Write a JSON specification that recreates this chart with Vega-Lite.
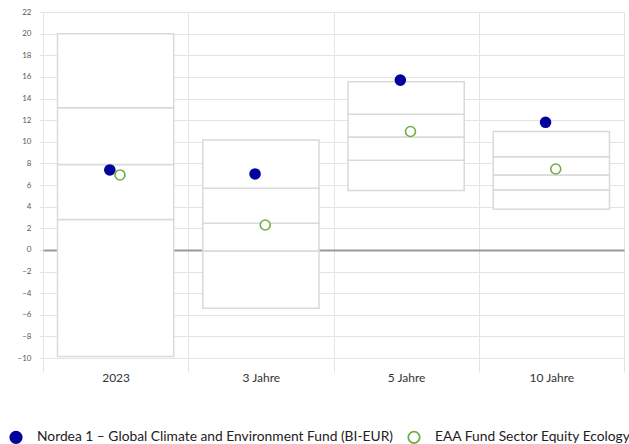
{
  "$schema": "https://vega.github.io/schema/vega-lite/v6.json",
  "autosize": "none",
  "padding": {"left": 43, "top": 12, "right": 5, "bottom": 86},
  "width": 581,
  "height": 346,
  "background": "white",
  "config": {
    "view": {"stroke": "#e4e4e4", "strokeWidth": 1},
    "font": "Lato",
    "legend": {
      "title": null,
      "orient": "none",
      "direction": "horizontal",
      "legendX": -34,
      "legendY": 418,
      "labelFontSize": 13.8,
      "labelColor": "#222222",
      "labelFont": "Lato",
      "labelLimit": 1000,
      "symbolSize": 130,
      "symbolStrokeWidth": 1.8,
      "labelOffset": 14,
      "columnPadding": 11
    }
  },
  "datasets": {
    "boxes": [
      {"period": "2023", "v": -9.85, "v2": 2.8},
      {"period": "2023", "v": 2.8, "v2": 7.9},
      {"period": "2023", "v": 7.9, "v2": 13.15},
      {"period": "2023", "v": 13.15, "v2": 20.0},
      {"period": "3 Jahre", "v": -5.4, "v2": -0.1},
      {"period": "3 Jahre", "v": -0.1, "v2": 2.46},
      {"period": "3 Jahre", "v": 2.46, "v2": 5.7},
      {"period": "3 Jahre", "v": 5.7, "v2": 10.17},
      {"period": "5 Jahre", "v": 5.5, "v2": 8.3},
      {"period": "5 Jahre", "v": 8.3, "v2": 10.45},
      {"period": "5 Jahre", "v": 10.45, "v2": 12.55},
      {"period": "5 Jahre", "v": 12.55, "v2": 15.55},
      {"period": "10 Jahre", "v": 3.75, "v2": 5.54},
      {"period": "10 Jahre", "v": 5.54, "v2": 6.93},
      {"period": "10 Jahre", "v": 6.93, "v2": 8.62},
      {"period": "10 Jahre", "v": 8.62, "v2": 10.94}
    ],
    "points": [
      {"period": "2023", "series": "Nordea 1 – Global Climate and Environment Fund (BI-EUR)", "v": 7.39},
      {"period": "3 Jahre", "series": "Nordea 1 – Global Climate and Environment Fund (BI-EUR)", "v": 7.02},
      {"period": "5 Jahre", "series": "Nordea 1 – Global Climate and Environment Fund (BI-EUR)", "v": 15.7},
      {"period": "10 Jahre", "series": "Nordea 1 – Global Climate and Environment Fund (BI-EUR)", "v": 11.8},
      {"period": "2023", "series": "EAA Fund Sector Equity Ecology", "v": 6.93},
      {"period": "3 Jahre", "series": "EAA Fund Sector Equity Ecology", "v": 2.3},
      {"period": "5 Jahre", "series": "EAA Fund Sector Equity Ecology", "v": 10.95},
      {"period": "10 Jahre", "series": "EAA Fund Sector Equity Ecology", "v": 7.48}
    ]
  },
  "encoding": {
    "y": {
      "field": "v",
      "type": "quantitative",
      "scale": {"domain": [-10, 22], "nice": false, "zero": false},
      "axis": {
        "title": null,
        "values": [-10, -8, -6, -4, -2, 0, 2, 4, 6, 8, 10, 12, 14, 16, 18, 20, 22],
        "labelOverlap": false,
        "domain": false,
        "grid": true,
        "gridColor": {"condition": {"test": "datum.value === 0", "value": "#999999"}, "value": "#e4e4e4"},
        "gridWidth": {"condition": {"test": "datum.value === 0", "value": 2}, "value": 1},
        "tickColor": "#e4e4e4",
        "tickSize": 4,
        "labelFontSize": 8,
        "labelColor": "#595959",
        "labelPadding": 8,
        "labelFont": "Lato"
      }
    }
  },
  "layer": [
    {
      "data": {"name": "boxes"},
      "mark": {"type": "bar", "fill": "#ffffff", "opacity": 1, "fillOpacity": 1, "stroke": "#d9d9d9", "strokeWidth": 1.5, "width": {"band": 0.8}},
      "encoding": {
        "x": {
          "field": "period",
          "type": "nominal",
          "scale": {"domain": ["2023", "3 Jahre", "5 Jahre", "10 Jahre"], "paddingInner": 0, "paddingOuter": 0},
          "axis": {
            "title": null,
            "labelAngle": 0,
            "domain": false,
            "grid": true,
            "gridColor": "#e4e4e4",
            "bandPosition": 0,
            "ticks": true,
            "tickBand": "extent",
            "tickSize": 14,
            "tickColor": "#e4e4e4",
            "labelFontSize": 12,
            "labelColor": "#333333",
            "labelPadding": 0,
            "labelFont": "Lato"
          }
        },
        "y2": {"field": "v2"}
      }
    },
    {
      "data": {"name": "points"},
      "transform": [{"filter": "datum.series === 'Nordea 1 – Global Climate and Environment Fund (BI-EUR)'"}],
      "mark": {"type": "point", "shape": "circle", "size": 100, "strokeWidth": 1.6, "opacity": 1},
      "encoding": {
        "x": {"field": "period", "type": "nominal", "bandPosition": 0.46},
        "stroke": {
          "field": "series",
          "type": "nominal",
          "scale": {"domain": ["Nordea 1 – Global Climate and Environment Fund (BI-EUR)", "EAA Fund Sector Equity Ecology"], "range": ["#00039b", "#70ad47"]}
        },
        "fill": {
          "field": "series",
          "type": "nominal",
          "scale": {"domain": ["Nordea 1 – Global Climate and Environment Fund (BI-EUR)", "EAA Fund Sector Equity Ecology"], "range": ["#00039b", "#ffffff"]}
        }
      }
    },
    {
      "data": {"name": "points"},
      "transform": [{"filter": "datum.series === 'EAA Fund Sector Equity Ecology'"}],
      "mark": {"type": "point", "shape": "circle", "size": 100, "strokeWidth": 1.6, "opacity": 1},
      "encoding": {
        "x": {"field": "period", "type": "nominal", "bandPosition": 0.53},
        "stroke": {"field": "series", "type": "nominal"},
        "fill": {"field": "series", "type": "nominal"}
      }
    }
  ]
}
